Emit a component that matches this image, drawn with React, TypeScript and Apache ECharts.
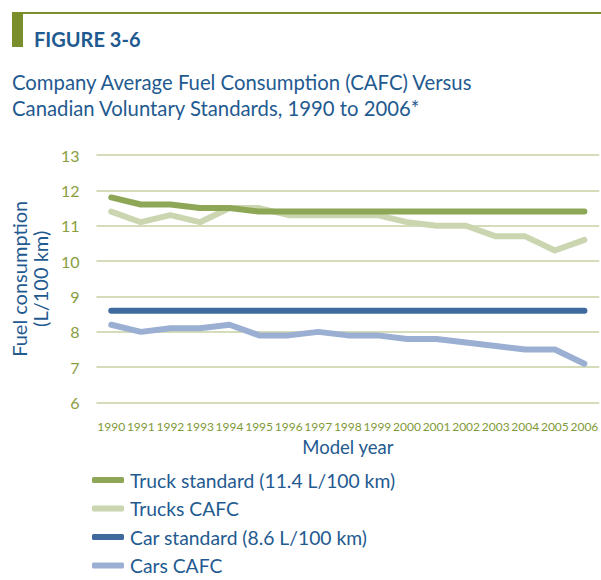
import React, { useEffect, useRef } from "react";
import * as echarts from "echarts";

const years = ["1990","1991","1992","1993","1994","1995","1996","1997","1998","1999","2000","2001","2002","2003","2004","2005","2006"];
const truckStandard = [11.8, 11.6, 11.6, 11.5, 11.5, 11.4, 11.4, 11.4, 11.4, 11.4, 11.4, 11.4, 11.4, 11.4, 11.4, 11.4, 11.4];
const trucksCafc = [11.4, 11.1, 11.3, 11.1, 11.5, 11.5, 11.3, 11.3, 11.3, 11.3, 11.1, 11.0, 11.0, 10.7, 10.7, 10.3, 10.6];
const carStandard = [8.6, 8.6, 8.6, 8.6, 8.6, 8.6, 8.6, 8.6, 8.6, 8.6, 8.6, 8.6, 8.6, 8.6, 8.6, 8.6, 8.6];
const carsCafc = [8.2, 8.0, 8.1, 8.1, 8.2, 7.9, 7.9, 8.0, 7.9, 7.9, 7.8, 7.8, 7.7, 7.6, 7.5, 7.5, 7.1];
const seriesNames = ["Truck standard (11.4 L/100 km)", "Trucks CAFC", "Car standard (8.6 L/100 km)", "Cars CAFC"];
const seriesColors = ["#8ea756", "#cbd6b1", "#3e6a9d", "#9aafd2"];

const BLUE = "#1f5a90";
const FONT = "Lato, 'Open Sans', sans-serif";

export default function App() {
  const ref = useRef<HTMLDivElement>(null);
  useEffect(() => {
    if (!ref.current) return;
    const chart = echarts.init(ref.current, null, { renderer: "svg" });
    const data = [truckStandard, trucksCafc, carStandard, carsCafc];
    const order = [1, 3, 0, 2];
    chart.setOption({
      animation: false,
      backgroundColor: "#ffffff",
      graphic: [
        { type: "rect", shape: { x: 12, y: 12, width: 589, height: 2 }, style: { fill: "#7a8f2c" } },
        { type: "rect", shape: { x: 12, y: 12, width: 11, height: 35 }, style: { fill: "#7a8f2c" } },
        { type: "text", x: 34, y: 49, style: { text: "FIGURE 3-6", fill: BLUE, font: `bold 20px ${FONT}`, textVerticalAlign: "bottom" } },
        { type: "text", x: 12, y: 92, style: { text: "Company Average Fuel Consumption (CAFC) Versus", fill: BLUE, font: `20.3px ${FONT}`, textVerticalAlign: "bottom" } },
        { type: "text", x: 12, y: 118, style: { text: "Canadian Voluntary Standards, 1990 to 2006*", fill: BLUE, font: `20.3px ${FONT}`, textVerticalAlign: "bottom" } },
      ],
      legend: {
        orient: "vertical",
        left: 87,
        top: 465,
        height: 115,
        itemWidth: 32,
        itemHeight: 6,
        itemGap: 8.5,
        icon: "roundRect",
        data: seriesNames,
        textStyle: { color: BLUE, fontFamily: FONT, fontSize: 19.3, lineHeight: 20, padding: [0, 0, 0, 1] },
      },
      grid: { left: 92, top: 155, width: 514, height: 247.6, containLabel: false },
      xAxis: {
        type: "category",
        data: years,
        boundaryGap: true,
        axisLine: { show: false },
        axisTick: { show: false },
        axisLabel: { color: "#7f9a38", fontFamily: FONT, fontSize: 12, margin: 18, interval: 0 },
        name: "Model year",
        nameLocation: "middle",
        nameGap: 35,
        nameTextStyle: { color: BLUE, fontFamily: FONT, fontSize: 18.5 },
      },
      yAxis: {
        type: "value",
        min: 6,
        max: 13,
        interval: 1,
        axisLine: { show: false },
        axisTick: { show: false },
        splitLine: { lineStyle: { color: "#d5dcb9", width: 2 } },
        axisLabel: { color: "#8a9e40", fontFamily: FONT, fontSize: 16, margin: 17 },
        name: "Fuel consumption\n(L/100 km)",
        nameLocation: "middle",
        nameGap: 42,
        nameTextStyle: { color: BLUE, fontFamily: FONT, fontSize: 20, lineHeight: 21 },
      },
      series: order.map((i) => ({
        name: seriesNames[i],
        type: "line",
        data: data[i],
        color: seriesColors[i],
        showSymbol: false,
        symbol: "none",
        lineStyle: { width: 6, color: seriesColors[i], cap: "round", join: "round" },
        z: i % 2 === 0 ? 3 : 2,
      })),
    });
    return () => chart.dispose();
  }, []);
  return <div ref={ref} style={{ position: "absolute", left: 0, top: 0, width: 601, height: 580 }} />;
}
